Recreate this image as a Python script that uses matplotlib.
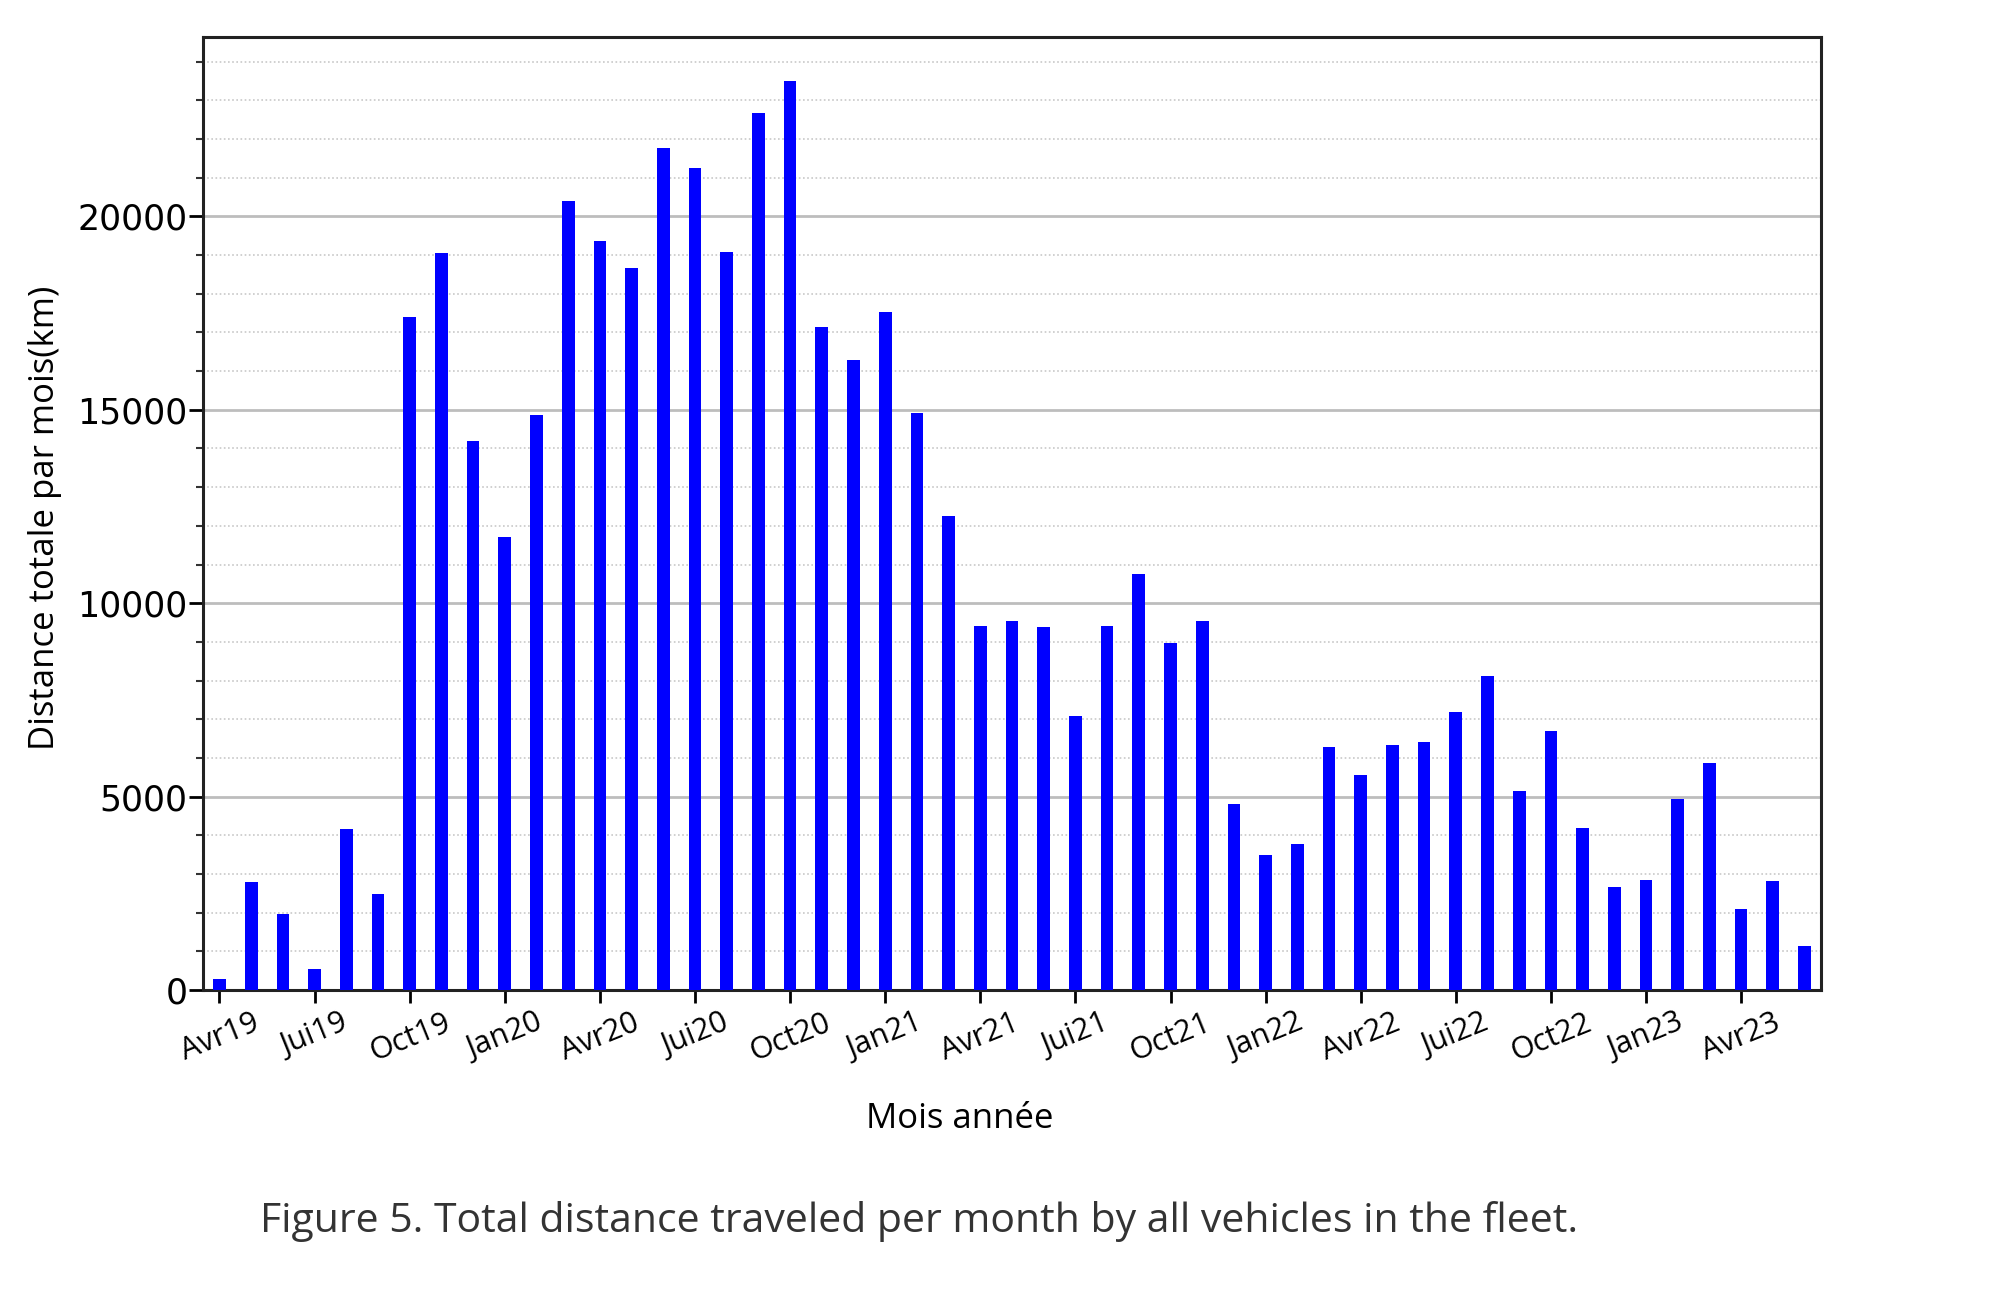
import matplotlib
matplotlib.use("Agg")
import matplotlib.pyplot as plt
from matplotlib.ticker import MultipleLocator
from matplotlib.transforms import ScaledTranslation
import numpy as np

months = [
    "Avr19", "Mai19", "Jun19", "Jui19", "Aou19", "Sep19", "Oct19", "Nov19", "Dec19",
    "Jan20", "Fev20", "Mar20", "Avr20", "Mai20", "Jun20", "Jui20", "Aou20", "Sep20", "Oct20", "Nov20", "Dec20",
    "Jan21", "Fev21", "Mar21", "Avr21", "Mai21", "Jun21", "Jui21", "Aou21", "Sep21", "Oct21", "Nov21", "Dec21",
    "Jan22", "Fev22", "Mar22", "Avr22", "Mai22", "Jun22", "Jui22", "Aou22", "Sep22", "Oct22", "Nov22", "Dec22",
    "Jan23", "Fev23", "Mar23", "Avr23", "Mai23", "Jun23",
]
distance_km = [
    290, 2780, 1970, 540, 4150, 2470, 17400, 19060, 14200,
    11700, 14870, 20390, 19355, 18666, 21773, 21239, 19088, 22668, 23494, 17151, 16282,
    17530, 14923, 12260, 9420, 9540, 9390, 7090, 9400, 10760, 8960, 9540, 4820,
    3490, 3780, 6290, 5550, 6330, 6420, 7190, 8130, 5140, 6700, 4190, 2670,
    2850, 4950, 5880, 2090, 2810, 1130,
]
tick_labels = ["Avr19", "Jui19", "Oct19", "Jan20", "Avr20", "Jui20", "Oct20", "Jan21",
               "Avr21", "Jui21", "Oct21", "Jan22", "Avr22", "Jui22", "Oct22", "Jan23", "Avr23"]
ytick_values = [0, 5000, 10000, 15000, 20000]

W, H = 2002, 1290
fig = plt.figure(figsize=(W / 100, H / 100), dpi=100)
ax = fig.add_axes([203 / W, 1 - 990 / H, (1821 - 203) / W, (990 - 36.5) / H])

x = np.arange(len(months))
ax.bar(x, distance_km, width=0.4, color="#0000ff", zorder=3)

ax.set_xlim(-0.52, len(months) - 1 + 0.52)
ax.set_ylim(0, 24650)

tick_pos = [months.index(m) for m in tick_labels]
ax.set_xticks(tick_pos)
ax.set_xticklabels(tick_labels, rotation=22, ha="center", fontsize=22, family="Open Sans")
shift = ScaledTranslation(-13 / 100, -2 / 100, fig.dpi_scale_trans)
for lbl in ax.get_xticklabels():
    lbl.set_transform(lbl.get_transform() + shift)
ax.set_yticks(ytick_values)
ax.set_yticklabels([str(v) for v in ytick_values], fontsize=25, family="DejaVu Sans")
ax.yaxis.set_minor_locator(MultipleLocator(1000))

ax.tick_params(axis="y", which="major", direction="out", length=10, width=2, pad=1)
ax.tick_params(axis="y", which="minor", direction="out", length=5, width=1.5, color="#333333")
ax.tick_params(axis="x", which="major", direction="out", length=9, width=2, pad=4)

ax.grid(axis="y", which="major", color="#bdbdbd", linewidth=2, linestyle="-", zorder=0)
ax.grid(axis="y", which="minor", color="#c8c8c8", linewidth=1.2, linestyle=(0, (1, 1.5)), zorder=0)
ax.set_axisbelow(True)

for s in ax.spines.values():
    s.set_linewidth(2.2)
    s.set_color("#222222")

ax.set_ylabel("Distance totale par mois(km)", fontsize=25, family="Open Sans", va="center")
ax.yaxis.set_label_coords((45 - 203) / (1821 - 203), (990 - 518) / (990 - 36.5))
ax.set_xlabel("Mois année", fontsize=25, family="Open Sans", va="center")
ax.xaxis.set_label_coords((960 - 203) / (1821 - 203), (990 - 1119) / (990 - 36.5))

fig.text(260 / W, 1 - 1221 / H, "Figure 5. Total distance traveled per month by all vehicles in the fleet.",
         fontsize=29.5, family="Open Sans", color="#333333", ha="left", va="center")

fig.savefig("out.png", dpi=100, facecolor="white")
